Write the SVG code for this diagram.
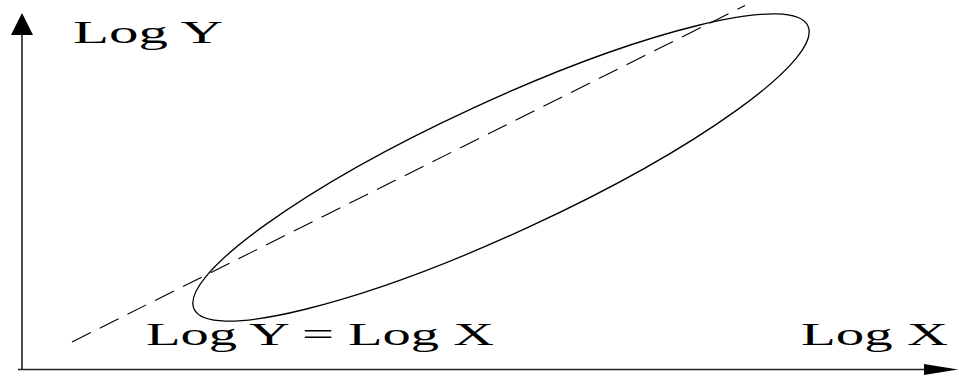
<svg xmlns="http://www.w3.org/2000/svg" width="959" height="377" viewBox="0 0 959 377">
  <style>
    .lbl { font-family: "Liberation Serif", "Times New Roman", serif; font-size: 32px; fill: #000; }
    .axis { stroke: #222; stroke-width: 1.6; fill: none; }
    .curve { stroke: #000; stroke-width: 1.3; fill: none; }
    .dash { stroke: #000; stroke-width: 1.1; fill: none; stroke-dasharray: 21 10; }
    .head { fill: #000; stroke: none; }
  </style>
  <rect width="959" height="377" fill="#fff"/>
  <g id="connectors">
    <line class="axis" x1="22" y1="34" x2="22" y2="370"/>
    <polygon class="head" points="22,13 11,35 33,35"/>
    <line class="axis" x1="18" y1="369.5" x2="925" y2="369.5"/>
    <polygon class="head" points="958,369.5 924,364 924,375"/>
    <line class="dash" x1="72" y1="342" x2="745" y2="5.5"/>
  </g>
  <g id="ellipse">
    <ellipse class="curve" cx="501" cy="167.5" rx="338" ry="65.7" transform="rotate(-24.75 501 167.5)"/>
  </g>
  <g id="label-logy">
    <text class="lbl" x="73" y="43" textLength="150" lengthAdjust="spacingAndGlyphs">Log Y</text>
  </g>
  <g id="label-identity">
    <text class="lbl" x="146" y="345" textLength="348" lengthAdjust="spacingAndGlyphs">Log Y = Log X</text>
  </g>
  <g id="label-logx">
    <text class="lbl" x="801" y="345" textLength="147" lengthAdjust="spacingAndGlyphs">Log X</text>
  </g>
</svg>
